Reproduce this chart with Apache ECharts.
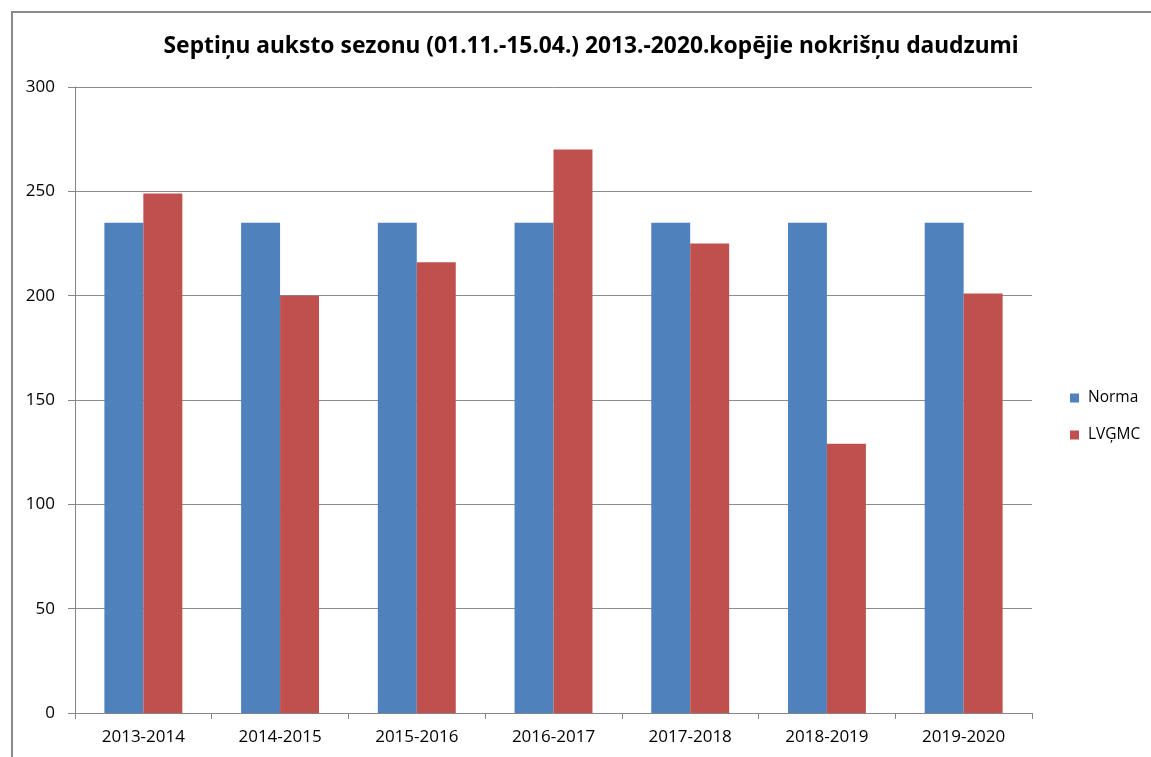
<!DOCTYPE html>
<html>
<head>
<meta charset="utf-8">
<script src="https://cdn.jsdelivr.net/npm/echarts@6/dist/echarts.min.js"></script>
<style>
  html, body { margin: 0; padding: 0; background: #fff; }
  #frame { position: absolute; left: 11px; top: 11px; right: 0; bottom: 0;
           border-left: 2px solid #8a8a8a; border-top: 2px solid #8a8a8a; }
  #chart { position: absolute; left: 0; top: 0; width: 1151px; height: 757px; }
</style>
</head>
<body>
<div id="frame"></div>
<div id="chart"></div>
<script>
// Seasons (1 Nov - 15 Apr) and total precipitation, mm
const seasons = ['2013-2014', '2014-2015', '2015-2016', '2016-2017', '2017-2018', '2018-2019', '2019-2020'];
const norma = [235, 235, 235, 235, 235, 235, 235];
const lvgmc = [249, 200, 216, 270, 225, 129, 201];
const yTicks = { min: 0, max: 300, interval: 50 };

const chart = echarts.init(document.getElementById('chart'), null, { renderer: 'canvas' });
const axisFont = { fontFamily: 'Open Sans, sans-serif', fontSize: 17, color: '#000' };

chart.setOption({
  animation: false,
  backgroundColor: 'transparent',
  title: {
    text: 'Septiņu auksto sezonu (01.11.-15.04.) 2013.-2020.kopējie nokrišņu daudzumi',
    left: 586, top: 30, textAlign: 'center',
    textStyle: { fontFamily: 'Noto Sans, sans-serif', fontWeight: 'bold', fontSize: 22.8, color: '#000' }
  },
  legend: {
    orient: 'vertical', left: 1065, top: 385,
    itemWidth: 9, itemHeight: 9, itemGap: 21,
    icon: 'rect',
    textStyle: { fontFamily: 'Open Sans, sans-serif', fontSize: 15.5, lineHeight: 16, color: '#000', padding: [0, 0, 0, 4] },
    data: ['Norma', 'LVĢMC']
  },
  grid: { left: 75, right: 119, top: 87, bottom: 44, containLabel: false },
  xAxis: {
    type: 'category', data: seasons,
    axisLine: { lineStyle: { color: '#868686', width: 1 } },
    axisTick: { show: true, length: 6, lineStyle: { color: '#868686' } },
    axisLabel: Object.assign({ margin: 16 }, axisFont),
    splitLine: { show: false }
  },
  yAxis: {
    type: 'value', min: yTicks.min, max: yTicks.max, interval: yTicks.interval,
    axisLine: { show: true, lineStyle: { color: '#868686', width: 1 } },
    axisTick: { show: true, length: 7, inside: false, lineStyle: { color: '#868686' } },
    axisLabel: Object.assign({ margin: 20 }, axisFont),
    splitLine: { show: true, lineStyle: { color: '#8c8c8c', width: 1 } }
  },
  series: [
    { name: 'Norma', type: 'bar', data: norma, barGap: '0%', barCategoryGap: '43%',
      itemStyle: { color: '#4F81BD' } },
    { name: 'LVĢMC', type: 'bar', data: lvgmc, barGap: '0%', barCategoryGap: '43%',
      itemStyle: { color: '#C0504D' } }
  ]
});
</script>
</body>
</html>
